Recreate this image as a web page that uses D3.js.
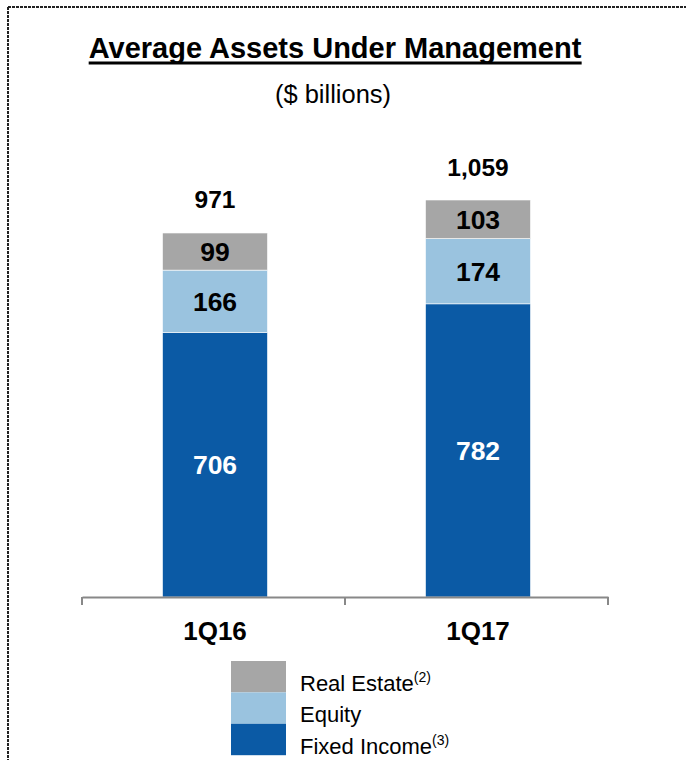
<!DOCTYPE html>
<html>
<head>
<meta charset="utf-8">
<script src="https://cdn.jsdelivr.net/npm/d3@7"></script>
<style>
  body { margin: 0; background: #fff; }
  svg { display: block; font-family: "Liberation Sans", Arial, sans-serif; }
</style>
</head>
<body>
<svg id="chart" width="686" height="760"></svg>
<script>
var quarters = ['1Q16', '1Q17'];
var seriesNames = ['Fixed Income', 'Equity', 'Real Estate'];
var fixedIncome = [706, 782];
var equity = [166, 174];
var realEstate = [99, 103];
var totals = ['971', '1,059'];
var legendNotes = {'Real Estate': '(2)', 'Equity': '', 'Fixed Income': '(3)'};

var colors = {'Fixed Income': '#0b5aa5', 'Equity': '#9ac3df', 'Real Estate': '#a6a6a6'};
var labelColors = {'Fixed Income': '#fff', 'Equity': '#000', 'Real Estate': '#000'};

var rows = quarters.map(function(q, i) {
    return {q: q, 'Fixed Income': fixedIncome[i], 'Equity': equity[i], 'Real Estate': realEstate[i], total: totals[i]};
});

var svg = d3.select('#chart');

// border (top + left, dotted)
svg.append('line').attr('x1', 8).attr('x2', 686).attr('y1', 7).attr('y2', 7)
    .style('stroke', '#222').style('stroke-width', 2).style('stroke-dasharray', '3,1');
svg.append('line').attr('x1', 8).attr('x2', 8).attr('y1', 7).attr('y2', 760)
    .style('stroke', '#222').style('stroke-width', 2).style('stroke-dasharray', '3,1');

// title
var title = svg.append('text').attr('x', 335).attr('y', 58)
    .attr('text-anchor', 'middle')
    .style('font-size', '29px').style('font-weight', 'bold')
    .text('Average Assets Under Management');
var tb = title.node().getBBox();
svg.append('line').attr('x1', tb.x).attr('x2', tb.x + tb.width).attr('y1', 63).attr('y2', 63)
    .style('stroke', '#000').style('stroke-width', 3);
svg.append('text').attr('x', 333).attr('y', 103)
    .attr('text-anchor', 'middle').style('font-size', '25.5px')
    .text('($ billions)');

var x = d3.scaleBand().domain(quarters).range([82, 608]).paddingInner(0).paddingOuter(0);
var barW = 105;
var barShift = 1.5;
var y = d3.scaleLinear().domain([0, 1059]).range([597, 200]);

var stack = d3.stack().keys(seriesNames)(rows);

var layers = svg.selectAll('.layer').data(stack).enter().append('g')
    .attr('class', 'layer')
    .style('fill', function(d) { return colors[d.key]; });

layers.selectAll('rect').data(function(d) { return d; }).enter().append('rect')
    .attr('x', function(d) { return x(d.data.q) + x.bandwidth() / 2 - barW / 2 + barShift; })
    .attr('y', function(d) { return y(d[1]); })
    .attr('width', barW)
    .attr('height', function(d) { return y(d[0]) - y(d[1]); })
    .style('stroke', '#fff').style('stroke-width', 0.6);

stack.forEach(function(layer) {
    svg.selectAll('.lbl-' + layer.index).data(layer).enter().append('text')
        .attr('x', function(d) { return x(d.data.q) + x.bandwidth() / 2 + barShift; })
        .attr('y', function(d) { return (y(d[0]) + y(d[1])) / 2 + 9.5; })
        .attr('text-anchor', 'middle')
        .style('font-size', '26.5px').style('font-weight', 'bold')
        .style('fill', labelColors[layer.key])
        .text(function(d) { return d.data[layer.key]; });
});

// totals
svg.selectAll('.total').data(rows).enter().append('text')
    .attr('class', 'total')
    .attr('x', function(d) { return x(d.q) + x.bandwidth() / 2 + barShift; })
    .attr('y', function(d) { return y(d['Fixed Income'] + d['Equity'] + d['Real Estate']) - 24.5; })
    .attr('text-anchor', 'middle')
    .style('font-size', '24.5px').style('font-weight', 'bold')
    .text(function(d) { return d.total; });

// axis
var axis = svg.append('g').attr('transform', 'translate(0,597)')
    .call(d3.axisBottom(x).tickSizeInner(0).tickSizeOuter(0).tickPadding(25));
axis.select('.domain').style('stroke', '#888').style('stroke-width', 2);
axis.selectAll('.tick text').attr('dx', 1.5).style('font-size', '26px').style('font-weight', 'bold')
    .style('fill', '#000').style('font-family', '"Liberation Sans", Arial, sans-serif');
var edges = [82, x('1Q17'), 608];
axis.selectAll('.edge').data(edges).enter().append('line')
    .attr('x1', function(d) { return d; }).attr('x2', function(d) { return d; })
    .attr('y1', 0).attr('y2', 8)
    .style('stroke', '#888').style('stroke-width', 2);

// legend
var legendKeys = seriesNames.slice().reverse();
var lg = svg.selectAll('.leg').data(legendKeys).enter().append('g')
    .attr('class', 'leg')
    .attr('transform', function(d, i) { return 'translate(231,' + (661 + i * 31.4) + ')'; });
lg.append('rect').attr('width', 55).attr('height', 31.4)
    .style('fill', function(d) { return colors[d]; });
var lt = lg.append('text').attr('x', 69).attr('y', 30)
    .style('font-size', '22px');
lt.append('tspan').text(function(d) { return d; });
lt.append('tspan').attr('dy', -9).style('font-size', '14px')
    .text(function(d) { return legendNotes[d]; });
</script>
</body>
</html>
